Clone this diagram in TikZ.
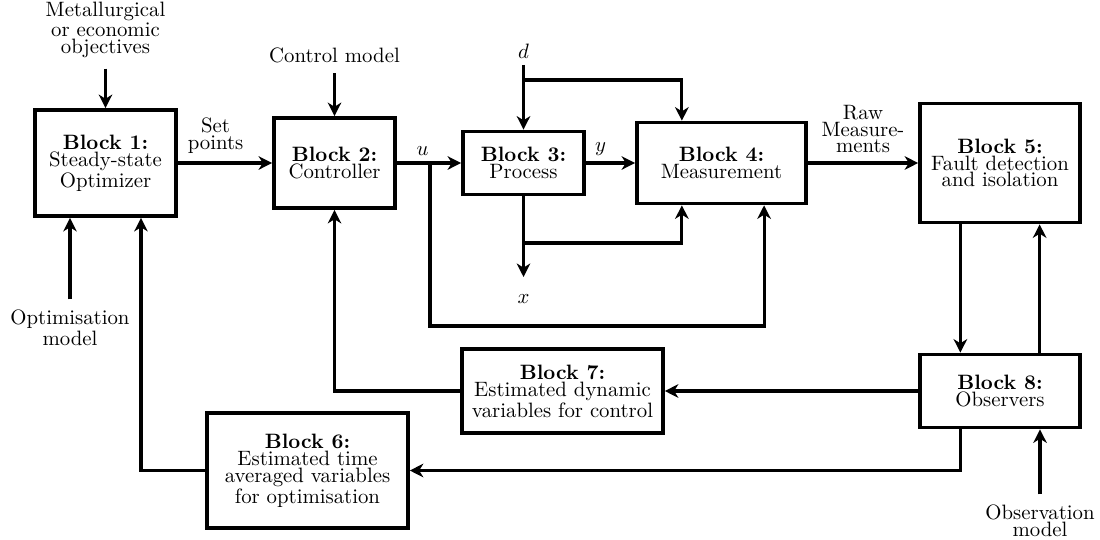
\documentclass[tikz,border=0pt]{standalone}
\usetikzlibrary{calc, arrows.meta}

\tikzset{
    block/.style = {draw, line width=1.8pt, align=center, inner sep=2pt},
    arr/.style = {line width=1.5pt, -{Stealth[length=6.5pt, width=6.5pt, inset=2pt]}},
    lbl/.style = {align=center, inner sep=1pt},
}

\begin{document}
\begin{tikzpicture}[x=0.0169cm, y=-0.0169cm, font=\fontsize{10}{8.1}\selectfont]
    \useasboundingbox (0,0) rectangle (1100,539);

    % blocks
    \node[block, minimum width=67.8pt, minimum height=51pt] (b1) at (105.5,163) {\textbf{Block 1:}\\Steady-state\\Optimizer};
    \node[block, minimum width=58.2pt, minimum height=43.3pt] (b2) at (334.5,163) {\textbf{Block 2:}\\Controller};
    \node[block, minimum width=58.2pt, minimum height=30.3pt] (b3) at (523.5,163) {\textbf{Block 3:}\\Process};
    \node[block, minimum width=81.3pt, minimum height=38.9pt] (b4) at (721.5,163) {\textbf{Block 4:}\\Measurement};
    \node[block, minimum width=76.9pt, minimum height=57.2pt] (b5) at (1000,163) {\textbf{Block 5:}\\Fault detection\\and isolation};
    \node[block, minimum width=96.6pt, minimum height=55.3pt] (b6) at (307.5,470.5) {\textbf{Block 6:}\\Estimated time\\averaged variables\\for optimisation};
    \node[block, minimum width=96.6pt, minimum height=40.4pt] (b7) at (562.5,391) {\textbf{Block 7:}\\Estimated dynamic\\variables for control};
    \node[block, minimum width=76.9pt, minimum height=35.1pt] (b8) at (1000,391) {\textbf{Block 8:}\\Observers};

    % outside inputs
    \node[lbl] (objtxt) at (105.5,30) {Metallurgical\\or economic\\objectives};
    \node[lbl] (ctrltxt) at (334.5,55) {Control model};
    \node[lbl] (dtxt) at (523.5,51) {$d$};
    \node[lbl] (opttxt) at (70,328) {Optimisation\\model};
    \node[lbl] (obstxt) at (1040,521) {Observation\\model};

    \coordinate (dsplit) at (523.5,80);
    \coordinate (usplit) at (430,163);
    \coordinate (xsplit) at (523.5,243);
    \coordinate (xend) at (523.5,277);
    \node[lbl] (xtxt) at (523.5,299) {$x$};

    \draw[arr, shorten <=4pt] (objtxt.south) -- (b1.north);
    \draw[arr, shorten <=4pt] (ctrltxt.south) -- (b2.north);
    \draw[arr, shorten <=4pt] (opttxt.north) -- (opttxt.north |- b1.south);
    \draw[arr, shorten <=4pt] (obstxt.north) -- (obstxt.north |- b8.south);

    % forward path
    \draw[arr] (b1.east) -- node[lbl, above=3pt, pos=0.4] {Set\\points} (b2.west);
    \draw[arr] (b2.east) -- node[lbl, above=2pt, pos=0.4] {$u$} (b3.west);
    \draw[arr] (b3.east) -- node[lbl, above=2pt, pos=0.3] {$y$} (b4.west);
    \draw[arr] (b4.east) -- node[lbl, above=3pt] {Raw\\Measure-\\ments} (b5.west);

    \draw[arr, shorten <=2pt] (dtxt.south) -- (b3.north);
    \draw[arr] (dsplit) -| ([xshift=-0.67cm]b4.north);
    \draw[arr] (b3.south) -- (xend);
    \draw[arr] (xsplit) -| ([xshift=-0.67cm]b4.south);
    \draw[arr] (usplit) -- (430,326) -| ([xshift=0.72cm]b4.south);

    % feedback
    \draw[arr] ([xshift=-0.67cm]b5.south) -- ([xshift=-0.67cm]b8.north);
    \draw[arr] ([xshift=0.67cm]b8.north) -- ([xshift=0.67cm]b5.south);
    \draw[arr] (b8.west) -- (b7.east);
    \draw[arr] (b7.west) -| (b2.south);
    \draw[arr] ([xshift=-0.67cm]b8.south) |- (b6.east);
    \draw[arr] (b6.west) -| ([xshift=0.6cm]b1.south);
\end{tikzpicture}
\end{document}
